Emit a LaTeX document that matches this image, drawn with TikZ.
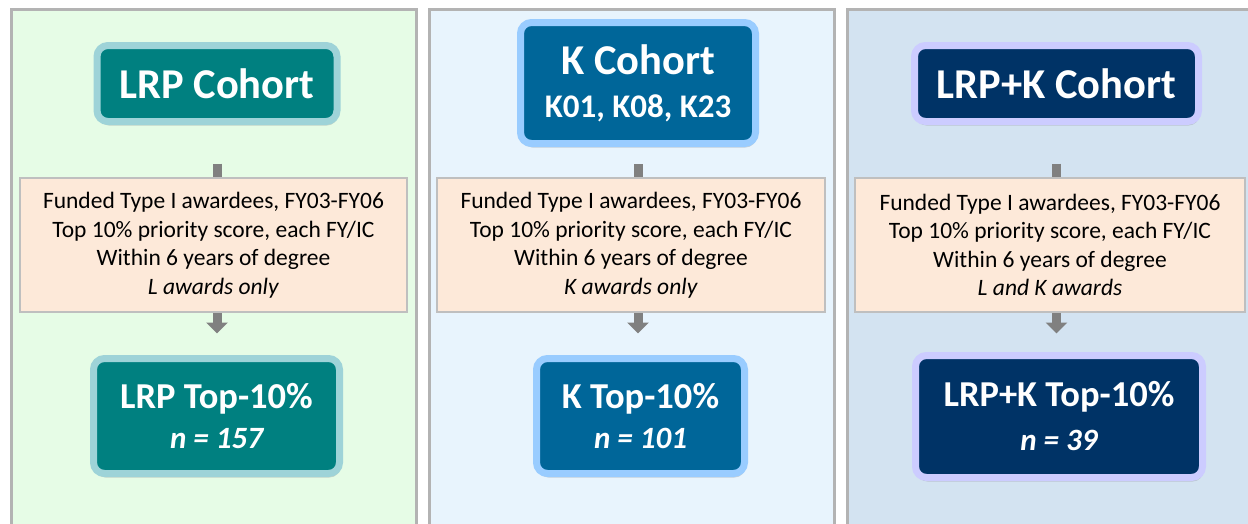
\documentclass[tikz,border=0pt]{standalone}
\usepackage{fontspec}
\setmainfont{Carlito}
\usepackage{xcolor}
\definecolor{lrpbg}{HTML}{E6FCE6}
\definecolor{kbg}{HTML}{E8F4FD}
\definecolor{bothbg}{HTML}{D3E3F1}
\definecolor{panelgray}{HTML}{B3B3B3}
\definecolor{lrpteal}{HTML}{008080}
\definecolor{lrprim}{HTML}{9ED3D8}
\definecolor{kblue}{HTML}{006699}
\definecolor{krim}{HTML}{99CCFF}
\definecolor{bothnavy}{HTML}{003366}
\definecolor{bothrim}{HTML}{CCCCFF}
\definecolor{peach}{HTML}{FDE9D9}
\definecolor{peachline}{HTML}{BFBFBF}
\definecolor{arrowgray}{HTML}{808080}
\usepackage{tikz}
\usetikzlibrary{arrows.meta, positioning, shadows}

\begin{document}
\begin{tikzpicture}[x=1pt, y=-1pt,
	panel/.style={draw=panelgray, line width=3pt},
	cohort/.style={rounded corners=11pt, line width=7pt, text=white, align=center, inner sep=0pt,
		font=\bfseries\fontsize{42.5}{43}\selectfont,
		drop shadow={opacity=0.3, shadow xshift=1pt, shadow yshift=-4pt}},
	topten/.style={cohort, font=\bfseries\fontsize{36.5}{40}\selectfont, minimum height=115pt},
	criteria/.style={fill=peach, draw=peachline, line width=1.5pt, align=center, inner sep=0pt,
		font=\fontsize{23.5}{28.5}\selectfont, minimum height=134pt},
	stub/.style={draw=arrowgray, line width=9pt},
	flow/.style={draw=arrowgray, line width=9pt, -{Triangle[width=21pt 0 0, length=11pt 0 0]}}
	]
	
	\useasboundingbox (0, 0) rectangle (1248, 523);
	\clip (0, 0) rectangle (1248, 523);
	
	\foreach \xa/\xb/\col in {11.5/416.5/lrpbg, 429/834/kbg, 847/1262/bothbg} {
		\draw[panel, fill=\col] (\xa, 9.5) rectangle (\xb, 540);
	}
	
	\node[cohort, fill=lrpteal, draw=lrprim, minimum width=240pt, minimum height=76pt] (lrpcoh) at (217, 83.5) {LRP Cohort};
	\node[cohort, fill=kblue, draw=krim, minimum width=235pt, minimum height=121pt] (kcoh) at (638, 83)
		{K Cohort\\{\fontsize{33}{43}\selectfont K01, K08, K23}};
	\node[cohort, fill=bothnavy, draw=bothrim, minimum width=284pt, minimum height=76pt] (bothcoh) at (1056.5, 83.5) {LRP+K Cohort};
	
	\node[criteria, minimum width=387pt] (lrpcrit) at (213.5, 245)
		{Funded Type I awardees, FY03-FY06\\Top 10\% priority score, each FY/IC\\Within 6 years of degree\\\textit{L awards only}};
	\node[criteria, minimum width=388pt] (kcrit) at (631, 245)
		{Funded Type I awardees, FY03-FY06\\Top 10\% priority score, each FY/IC\\Within 6 years of degree\\\textit{K awards only}};
	\node[criteria, minimum width=390pt] (bothcrit) at (1050, 245)
		{Funded Type I awardees, FY03-FY06\\Top 10\% priority score, each FY/IC\\Within 6 years of degree\\\textit{L and K awards}};
	
	\node[topten, fill=lrpteal, draw=lrprim, minimum width=246pt] (lrpres) at (216.5, 416)
		{LRP Top-10\%\\{\itshape\fontsize{31}{40}\selectfont n = 157}};
	\node[topten, fill=kblue, draw=krim, minimum width=208pt] (kres) at (640.5, 416)
		{K Top-10\%\\{\itshape\fontsize{31}{40}\selectfont n = 101}};
	\node[topten, fill=bothnavy, draw=bothrim, minimum width=287pt, minimum height=122pt] (bothres) at (1059, 416.5)
		{LRP+K Top-10\%\\[4pt]{\itshape\fontsize{31}{40}\selectfont n = 39}};
	
	\draw[stub, shorten <=38.5pt] (lrpcoh.south) -- (lrpcoh.south |- lrpcrit.north);
	\draw[stub, shorten <=17pt] (kcoh.south) -- (kcoh.south |- kcrit.north);
	\draw[stub, shorten <=38.5pt] (bothcoh.south) -- (bothcoh.south |- bothcrit.north);
	
	\draw[flow, shorten >=21.5pt] (lrpcoh.south |- lrpcrit.south) -- (lrpcoh.south |- lrpres.north);
	\draw[flow, shorten >=21.5pt] (kcoh.south |- kcrit.south) -- (kcoh.south |- kres.north);
	\draw[flow, shorten >=18.5pt] (bothcoh.south |- bothcrit.south) -- (bothcoh.south |- bothres.north);
\end{tikzpicture}
\end{document}
